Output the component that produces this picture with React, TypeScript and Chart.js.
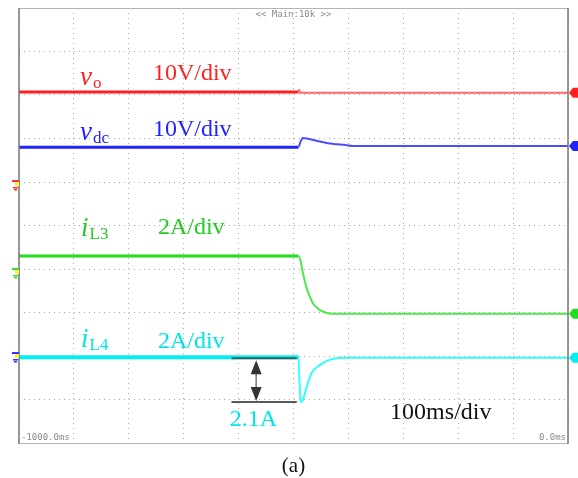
import React, { useEffect, useRef } from "react";
import { Chart, registerables } from "chart.js";
Chart.register(...registerables);

// time axis (ms) and vertical axis in scope divisions (0 = bottom, 10 = top)
const X_MIN = -1000;
const X_MAX = 0;
const Y_MIN = 0;
const Y_MAX = 10;
const SWITCH_T = -491;

const voTime = [-1000, -491, -489.5, -488, 0];
const voDiv = [8.07, 8.07, 8.12, 8.05, 8.05];

const vdcTime = [-1000, -491, -487, -483, -476, -466, -452, -437, -421, -405, -392, 0];
const vdcDiv = [6.8, 6.8, 6.93, 7.01, 7.0, 6.97, 6.93, 6.89, 6.87, 6.85, 6.83, 6.83];

const iL3Time = [-1000, -491, -487, -483, -479, -475, -470, -465, -458, -451, -442, -430, 0];
const iL3Div = [4.3, 4.3, 4.18, 3.92, 3.7, 3.52, 3.36, 3.22, 3.12, 3.05, 3.0, 2.97, 2.97];

const iL4Time = [-1000, -491, -489, -487, -485, -482, -476, -467, -452, -437, -421, -400, 0];
const iL4Div = [1.97, 1.97, 1.4, 0.98, 0.94, 1.02, 1.29, 1.61, 1.79, 1.9, 1.95, 1.96, 1.96];

// ground (zero-level) markers on the left edge, in divisions
const groundLevels = [5.96, 3.93, 2.0];

const traceColors = [
  { dark: "#ff1f1f", light: "#ff6a6a" },
  { dark: "#2222ff", light: "#4d4dff" },
  { dark: "#22dd22", light: "#4ce84c" },
  { dark: "#00f0f0", light: "#33ffff" },
];

const toPts = (t: number[], v: number[]) => t.map((x, i) => ({ x, y: v[i] }));

const SERIF = '"Liberation Serif", "Times New Roman", serif';
const MONO = '"DejaVu Sans Mono", "Liberation Mono", monospace';

export default function App() {
  const ref = useRef<HTMLCanvasElement | null>(null);

  useEffect(() => {
    const canvas = ref.current;
    if (!canvas) return;

    const scopePlugin = {
      id: "scope",
      afterDraw(chart: any) {
        const ctx = chart.ctx as CanvasRenderingContext2D;
        const xs = chart.scales.x;
        const ys = chart.scales.y;
        const px = (t: number) => xs.getPixelForValue(t);
        const py = (d: number) => ys.getPixelForValue(d);
        const a = chart.chartArea;
        ctx.save();

        // frame
        ctx.strokeStyle = "#b4b4b4";
        ctx.lineWidth = 1;
        ctx.beginPath();
        ctx.moveTo(a.left, a.top + 0.5);
        ctx.lineTo(a.right, a.top + 0.5);
        ctx.moveTo(a.left, a.bottom + 0.5);
        ctx.lineTo(a.right, a.bottom + 0.5);
        ctx.stroke();
        ctx.strokeStyle = "#777";
        ctx.lineWidth = 1.5;
        ctx.beginPath();
        ctx.moveTo(a.left, a.top);
        ctx.lineTo(a.left, a.bottom + 1);
        ctx.moveTo(a.right, a.top);
        ctx.lineTo(a.right, a.bottom + 1);
        ctx.stroke();

        // scope texts
        ctx.fillStyle = "#8a8a8a";
        ctx.font = "9px " + MONO;
        ctx.textBaseline = "alphabetic";
        ctx.textAlign = "center";
        ctx.fillText("<< Main:10k >>", px(-500), a.top + 9);
        ctx.textAlign = "left";
        ctx.fillText("-1000.0ms", a.left + 2, a.bottom - 3);
        ctx.textAlign = "right";
        ctx.fillText("0.0ms", a.right - 2, a.bottom - 3);

        // right-edge channel markers
        const sets = chart.data.datasets;
        sets.forEach((ds: any, i: number) => {
          const last = ds.data[ds.data.length - 1];
          const y = py(last.y);
          const x0 = a.right + 1;
          ctx.fillStyle = traceColors[i].dark;
          ctx.beginPath();
          ctx.moveTo(x0, y);
          ctx.lineTo(x0 + 4, y - 5);
          ctx.lineTo(x0 + 9, y - 5);
          ctx.lineTo(x0 + 9, y + 5);
          ctx.lineTo(x0 + 4, y + 5);
          ctx.closePath();
          ctx.fill();
        });

        // left ground markers
        const gColors = ["#ff3030", "#33dd33", "#3333ff"];
        groundLevels.forEach((lv, i) => {
          const y = Math.round(py(lv));
          const xr = a.left;
          ctx.fillStyle = gColors[i];
          ctx.fillRect(xr - 7, y - 4, 7, 2);
          ctx.fillRect(xr - 6, y + 3, 5, 1.5);
          ctx.fillRect(xr - 5, y + 5, 3, 1.5);
          ctx.fillStyle = "#ffee44";
          ctx.fillRect(xr - 4, y - 2, 4, 4);
        });

        // channel labels
        const varLabel = (main: string, sub: string, t: number, d: number, color: string) => {
          const x = px(t);
          const y = py(d);
          ctx.fillStyle = color;
          ctx.textAlign = "left";
          ctx.font = "italic 27px " + SERIF;
          ctx.fillText(main, x, y);
          const w = ctx.measureText(main).width;
          ctx.font = "17px " + SERIF;
          ctx.fillText(sub, x + w + 1, y + 3);
        };
        const plain = (s: string, t: number, d: number, color: string) => {
          ctx.fillStyle = color;
          ctx.textAlign = "left";
          ctx.font = "24px " + SERIF;
          ctx.fillText(s, px(t), py(d));
        };
        varLabel("v", "o", -889, 8.23, "#ff1f1f");
        plain("10V/div", -756, 8.34, "#ff1f1f");
        varLabel("v", "dc", -889, 6.97, "#2222ff");
        plain("10V/div", -756, 7.06, "#2222ff");
        varLabel("i", "L3", -887, 4.76, "#22cc22");
        plain("2A/div", -747, 4.8, "#22cc22");
        varLabel("i", "L4", -887, 2.21, "#00e6e6");
        plain("2A/div", -747, 2.18, "#00e6e6");
        plain("2.1A", -616, 0.39, "#00e6e6");
        plain("100ms/div", -324, 0.55, "#111");

        // 2.1A annotation
        const topY = py(iL4Div[0]);
        const botY = py(Math.min(...iL4Div));
        const xl = px(-613);
        const xr2 = px(-494);
        ctx.strokeStyle = "#2f5f5f";
        ctx.lineWidth = 2;
        ctx.beginPath();
        ctx.moveTo(xl, topY + 1);
        ctx.lineTo(xr2, topY + 1);
        ctx.stroke();
        ctx.strokeStyle = "#222";
        ctx.lineWidth = 1.5;
        ctx.beginPath();
        ctx.moveTo(xl, botY);
        ctx.lineTo(xr2, botY);
        ctx.stroke();
        const ax = px(-568);
        ctx.strokeStyle = "#777";
        ctx.lineWidth = 1.5;
        ctx.beginPath();
        ctx.moveTo(ax, topY + 14);
        ctx.lineTo(ax, botY - 14);
        ctx.stroke();
        ctx.fillStyle = "#333";
        ctx.beginPath();
        ctx.moveTo(ax, topY + 3);
        ctx.lineTo(ax - 5.5, topY + 17);
        ctx.lineTo(ax + 5.5, topY + 17);
        ctx.closePath();
        ctx.fill();
        ctx.beginPath();
        ctx.moveTo(ax, botY - 1);
        ctx.lineTo(ax - 5.5, botY - 15);
        ctx.lineTo(ax + 5.5, botY - 15);
        ctx.closePath();
        ctx.fill();

        // caption
        ctx.fillStyle = "#111";
        ctx.textAlign = "center";
        ctx.font = "21px " + SERIF;
        ctx.fillText("(a)", (a.left + a.right) / 2, a.bottom + 29);

        ctx.restore();
      },
    };

    const mk = (label: string, t: number[], v: number[], i: number) => ({
      label,
      data: toPts(t, v),
      pointRadius: 0,
      cubicInterpolationMode: "monotone" as const,
      borderColor: traceColors[i].dark,
      segment: {
        borderColor: (c: any) => (c.p0.parsed.x < SWITCH_T ? traceColors[i].dark : traceColors[i].light),
        borderWidth: (c: any) => (c.p0.parsed.x < SWITCH_T ? (i === 3 ? 4 : 3) : 2),
      },
    });

    const chart = new Chart(canvas, {
      type: "line",
      data: {
        datasets: [
          mk("vo", voTime, voDiv, 0),
          mk("vdc", vdcTime, vdcDiv, 1),
          mk("iL3", iL3Time, iL3Div, 2),
          mk("iL4", iL4Time, iL4Div, 3),
        ],
      },
      options: {
        animation: false,
        responsive: false,
        events: [],
        layout: { padding: { left: 19, top: 8, right: 10, bottom: 35 } },
        plugins: { legend: { display: false }, tooltip: { enabled: false } },
        scales: {
          x: {
            type: "linear",
            min: X_MIN,
            max: X_MAX,
            ticks: { display: false, stepSize: 100 },
            grid: { color: "#a8a8a8", drawTicks: false, lineWidth: 1 },
            border: { display: false, dash: [1, 4] },
          },
          y: {
            type: "linear",
            min: Y_MIN,
            max: Y_MAX,
            ticks: { display: false, stepSize: 1 },
            grid: { color: "#a8a8a8", drawTicks: false, lineWidth: 1 },
            border: { display: false, dash: [1, 4] },
          },
        },
      },
      plugins: [scopePlugin],
    });
    return () => chart.destroy();
  }, []);

  return (
    <div style={{ position: "fixed", left: 0, top: 0, width: 578, height: 478, background: "#fff" }}>
      <canvas ref={ref} width={578} height={478} style={{ display: "block" }} />
    </div>
  );
}
